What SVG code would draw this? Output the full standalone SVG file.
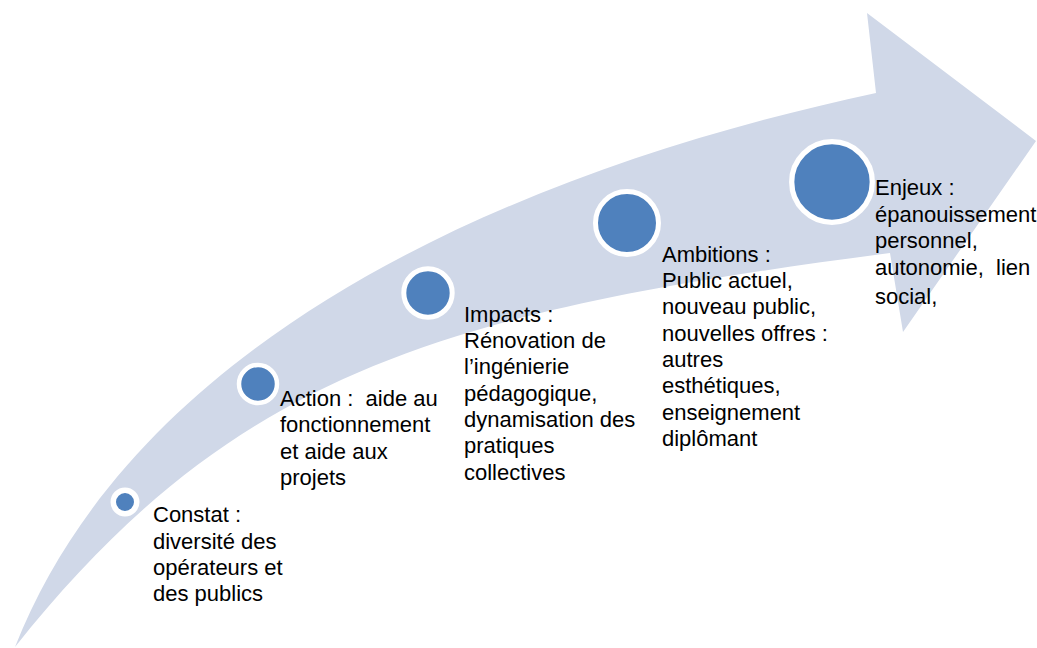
<svg xmlns="http://www.w3.org/2000/svg" width="1037" height="648" viewBox="0 0 1037 648">
  <style>
    .band { fill: #D0D8E8; stroke: none; }
    .dot { fill: #4F81BD; stroke: #FFFFFF; stroke-width: 5; }
    .lbl { font-family: "Liberation Sans", Arial, sans-serif; font-size: 22px; fill: #000000; white-space: pre; }
  </style>
  <rect x="0" y="0" width="1037" height="648" fill="#FFFFFF"/>
  <g id="arrow">
    <path class="band" d="M15,647 C140,330 526,168 876,93 L867,13 L1036,141 L903,332 L890,253 C440,311.5 232,374 15,647 Z"/>
  </g>
  <g id="connectors"></g>
  <g id="node-constat">
    <circle class="dot" cx="125" cy="502" r="11.75" style="stroke-width:5.5"/>
    <text class="lbl" x="153" y="522">Constat :</text>
    <text class="lbl" x="153" y="548.5">diversité des</text>
    <text class="lbl" x="153" y="575">opérateurs et</text>
    <text class="lbl" x="153" y="601">des publics</text>
  </g>
  <g id="node-action">
    <circle class="dot" cx="258" cy="384" r="19" style="stroke-width:4.5"/>
    <text class="lbl" x="280" y="406">Action :  aide au</text>
    <text class="lbl" x="280" y="432.3">fonctionnement</text>
    <text class="lbl" x="280" y="458.6">et aide aux</text>
    <text class="lbl" x="280" y="485">projets</text>
  </g>
  <g id="node-impacts">
    <circle class="dot" cx="428" cy="293" r="24.2"/>
    <text class="lbl" x="464" y="321.7">Impacts :</text>
    <text class="lbl" x="464" y="348">Rénovation de</text>
    <text class="lbl" x="464" y="374.3">l’ingénierie</text>
    <text class="lbl" x="464" y="400.6">pédagogique,</text>
    <text class="lbl" x="464" y="426.9">dynamisation des</text>
    <text class="lbl" x="464" y="453.2">pratiques</text>
    <text class="lbl" x="464" y="479.5">collectives</text>
  </g>
  <g id="node-ambitions">
    <circle class="dot" cx="627" cy="223" r="31.5"/>
    <text class="lbl" x="662" y="261.7">Ambitions :</text>
    <text class="lbl" x="662" y="288">Public actuel,</text>
    <text class="lbl" x="662" y="314.3">nouveau public,</text>
    <text class="lbl" x="662" y="340.6">nouvelles offres :</text>
    <text class="lbl" x="662" y="366.9">autres</text>
    <text class="lbl" x="662" y="393.2">esthétiques,</text>
    <text class="lbl" x="662" y="419.5">enseignement</text>
    <text class="lbl" x="662" y="445.8">diplômant</text>
  </g>
  <g id="node-enjeux">
    <circle class="dot" cx="832" cy="182" r="40.3" style="stroke-width:5.3"/>
    <text class="lbl" x="875" y="195">Enjeux :</text>
    <text class="lbl" x="875" y="221.7">épanouissement</text>
    <text class="lbl" x="875" y="248.3">personnel,</text>
    <text class="lbl" x="875" y="275">autonomie,  lien</text>
    <text class="lbl" x="875" y="304">social,</text>
  </g>
</svg>
